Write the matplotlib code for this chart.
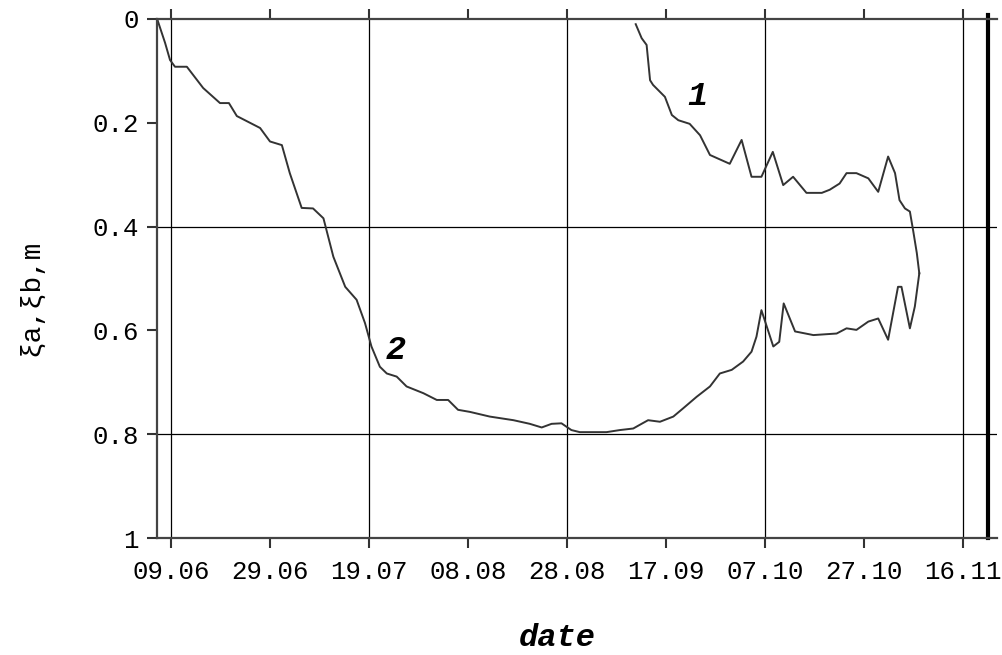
import datetime as dt
import matplotlib
matplotlib.use("Agg")
import matplotlib.pyplot as plt
import matplotlib.dates as mdates

YEAR = 2001
START = dt.datetime(YEAR, 6, 9)

# x tick labels (dd.mm) and the dates carrying vertical grid lines
tick_labels = ["09.06", "29.06", "19.07", "08.08", "28.08",
               "17.09", "07.10", "27.10", "16.11"]
grid_labels = ["09.06", "19.07", "28.08", "07.10", "16.11"]
y_ticks = [0, 0.2, 0.4, 0.6, 0.8, 1]
y_tick_labels = ["0", "0.2", "0.4", "0.6", "0.8", "1"]
y_grid = [0.4, 0.8]

# curve 2: days since 09.06 and depth (m)
days_2 = [-2.8, -1.2, -0.2, 0.8, 3.2, 6.5, 9.9, 11.7, 13.3, 18.0, 20.0,
          22.4, 24.0, 26.4, 28.7, 30.8, 32.8, 35.2, 37.5, 39.2, 40.5, 42.2,
          43.6, 45.6, 47.6, 51.0, 53.7, 56.0, 58.0, 60.4, 64.4, 69.2, 72.5,
          74.9, 76.9, 78.9, 80.9, 82.6, 88.0, 90.7, 93.4, 94.7, 96.4, 98.8,
          101.5, 103.5, 106.2, 108.9, 110.9, 113.3, 115.6, 117.3, 118.3,
          119.3, 121.7, 122.9, 123.8, 126.1, 129.8, 134.5, 136.5, 138.5,
          140.9, 142.9, 144.9, 146.9, 147.6, 149.3, 150.3, 151.2]
depth_2 = [0.0, 0.046, 0.079, 0.092, 0.092, 0.133, 0.162, 0.162, 0.187,
           0.21, 0.236, 0.243, 0.297, 0.364, 0.365, 0.384, 0.458, 0.516,
           0.541, 0.586, 0.631, 0.67, 0.683, 0.689, 0.708, 0.721, 0.734,
           0.734, 0.753, 0.757, 0.766, 0.773, 0.78, 0.787, 0.78, 0.779,
           0.792, 0.796, 0.796, 0.792, 0.789, 0.782, 0.773, 0.776, 0.766,
           0.75, 0.728, 0.708, 0.683, 0.676, 0.66, 0.641, 0.612, 0.561,
           0.631, 0.622, 0.548, 0.602, 0.609, 0.606, 0.596, 0.599, 0.583,
           0.577, 0.618, 0.516, 0.516, 0.596, 0.554, 0.49]

# curve 1
days_1 = [93.9, 95.1, 96.1, 96.8, 97.4, 99.8, 101.2, 102.5, 104.8, 106.9,
          108.9, 112.9, 115.3, 117.3, 119.3, 121.6, 123.7, 125.7, 128.4,
          131.5, 133.1, 135.1, 136.5, 138.5, 140.9, 142.9, 144.9, 146.3,
          147.2, 148.3, 149.3, 150.0, 150.7, 151.2]
depth_1 = [0.01, 0.037, 0.05, 0.118, 0.127, 0.15, 0.185, 0.195, 0.202,
           0.224, 0.262, 0.279, 0.233, 0.304, 0.304, 0.256, 0.32, 0.304,
           0.335, 0.335, 0.329, 0.317, 0.297, 0.297, 0.307, 0.333, 0.265,
           0.297, 0.349, 0.365, 0.371, 0.41, 0.451, 0.49]


def to_date(s):
    return dt.datetime.strptime(f"{s}.{YEAR}", "%d.%m.%Y")


def shift(days):
    return [START + dt.timedelta(days=d) for d in days]


plt.rcParams['font.family'] = ['Liberation Mono', 'DejaVu Sans Mono']

fig = plt.figure(figsize=(10.02, 6.55), dpi=100)
ax = fig.add_axes([0.1567, 0.1786, 0.8383, 0.7924])

line_kw = dict(color="#333333", lw=1.4)
ax.plot(shift(days_2), depth_2, **line_kw)
ax.plot(shift(days_1), depth_1, **line_kw)

for s in grid_labels:
    ax.axvline(to_date(s), color="black", lw=0.9, zorder=0)
for v in y_grid:
    ax.axhline(v, color="black", lw=0.9, zorder=0)

# thick right border, poking a little above the top spine
ax.axvline(START + dt.timedelta(days=165.05), ymin=0, ymax=1.008,
           color="black", lw=3, clip_on=False)

ax.set_xlim(START - dt.timedelta(days=2.83), START + dt.timedelta(days=166.9))
ax.set_ylim(1, 0)

ax.set_xticks([to_date(s) for s in tick_labels])
ax.set_xticklabels(tick_labels, fontsize=18.5)
ax.set_yticks(y_ticks)
ax.set_yticklabels(y_tick_labels, fontsize=18.5)

ax.tick_params(axis="x", which="both", top=True, bottom=True,
               direction="out", length=7, width=1.5, pad=9, color="#333333")
ax.tick_params(axis="y", direction="out", length=7, width=1.5, pad=6,
               color="#333333")

ax.spines["right"].set_visible(False)
for side in ("left", "top", "bottom"):
    ax.spines[side].set_linewidth(1.6)
    ax.spines[side].set_color("#444444")

ax.text(to_date("09.06") + dt.timedelta(days=106.3), 0.150, "1",
        fontsize=24, fontweight="bold", fontstyle="italic",
        ha="center", va="center")
ax.text(to_date("09.06") + dt.timedelta(days=45.5), 0.638, "2",
        fontsize=24, fontweight="bold", fontstyle="italic",
        ha="center", va="center")

fig.text(557 / 1002, 1 - 638 / 655, "date", fontsize=23,
         fontweight="bold", fontstyle="italic", ha="center", va="center")
fig.text(31 / 1002, 1 - 298 / 655, "ξa,ξb,m", fontsize=20,
         rotation=90, ha="center", va="center")

fig.savefig("out.png", dpi=100)
